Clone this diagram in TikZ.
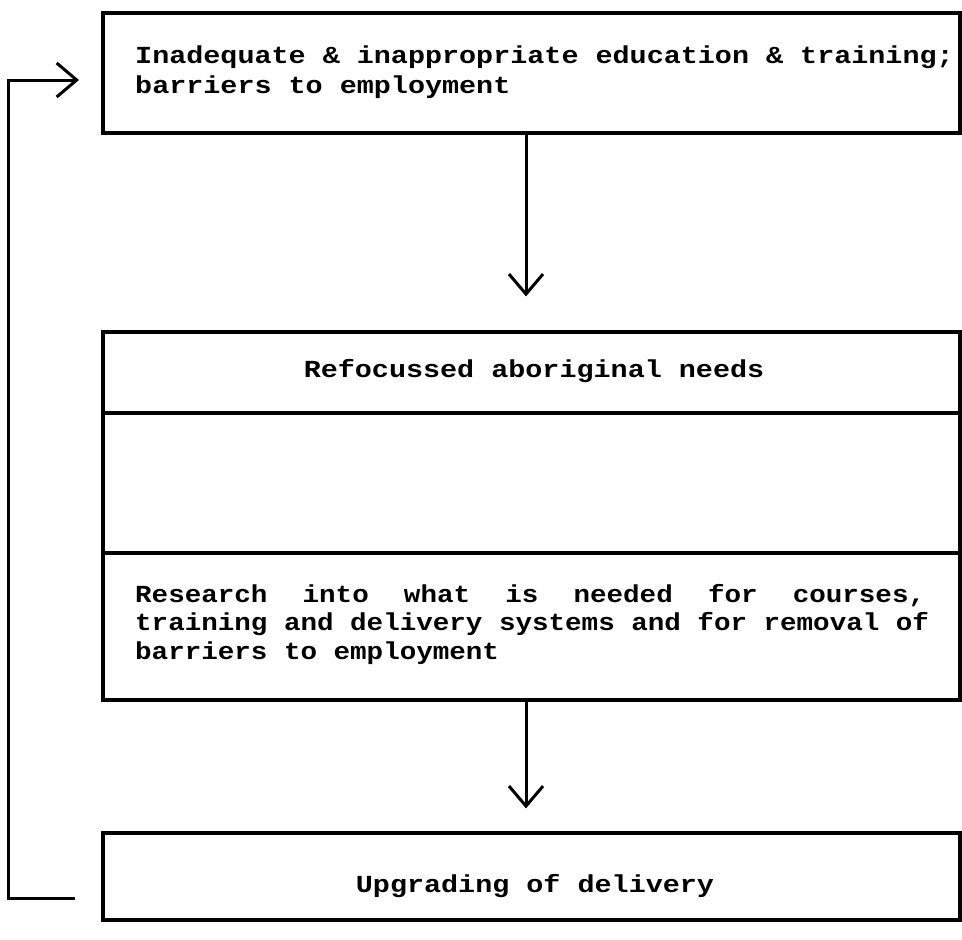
\documentclass[tikz,border=0pt]{standalone}
\usepackage{fontspec}
\newfontfamily\typew[FakeStretch=1.16]{Liberation Mono}
\newfontfamily\typewn[FakeStretch=1.125]{Liberation Mono}
\usetikzlibrary{arrows.meta}
\begin{document}
\begin{tikzpicture}[x=1pt,y=-1pt,
  box/.style={draw,line width=3.2pt,inner sep=0pt,minimum width=857pt},
  txt/.style={font=\typew\bfseries\fontsize{24.5}{29.5}\selectfont,inner sep=0pt},
  txtn/.style={font=\typewn\bfseries\fontsize{24.5}{28.5}\selectfont,inner sep=0pt},
  arr/.style={line width=3pt,-{Straight Barb[length=20pt,width=34pt,line width=3pt]}}]
\useasboundingbox[fill=white] (0,0) rectangle (962,940);
% boxes
\node[box,minimum height=120pt] (top) at (531.5,73) {};
\node[box,minimum height=81pt] (mtop) at (531.5,372.5) {};
\node[box,minimum height=140pt] (mmid) at (531.5,483) {};
\node[box,minimum height=147pt] (mbot) at (531.5,626.5) {};
\node[box,minimum height=87pt] (bot) at (531.5,876.5) {};
% texts
\node[txt,anchor=base west] (t1) at (135,63) {Inadequate \& inappropriate education \& training;};
\node[txt,anchor=base west] (t2) at (135,93) {barriers to employment};
\node[txt,anchor=base] (rt) at (534,377) {Refocussed aboriginal needs};
\node[txtn,anchor=base west,align=left] (rs) at (135,659)
  {\makebox[790pt][s]{Research\hfill into\hfill what\hfill is\hfill needed\hfill for\hfill courses,}\\
   training and delivery systems and for removal of\\
   barriers to employment};
\node[txt,anchor=base] (ut) at (535,892) {Upgrading of delivery};
% connectors
\draw[arr] ([xshift=-5.5pt]top.south) -- ([xshift=-5.5pt,yshift=34pt]mtop.north);
\draw[arr] ([xshift=-5.5pt]mbot.south) -- ([xshift=-5.5pt,yshift=23pt]bot.north);
\coordinate (fbs) at (75,898);
\coordinate (fbe) at (79,80);
\draw[arr] (fbs) -- (8,898) -- (8,80) -- (fbe);
\end{tikzpicture}
\end{document}
